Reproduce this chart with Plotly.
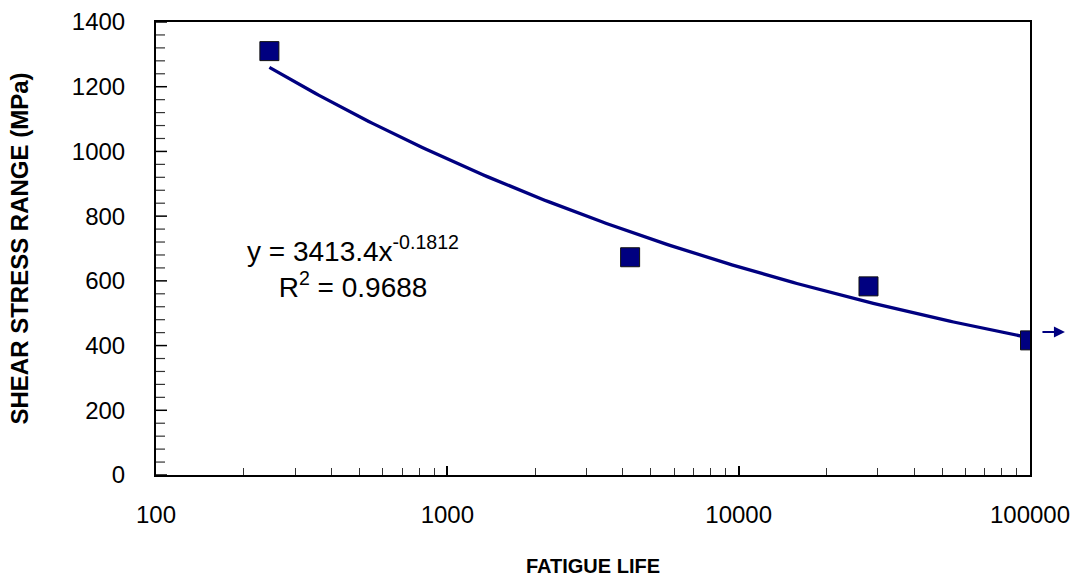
import numpy as np
import plotly.graph_objects as go

# Data
fatigue_life = [245, 4240, 27900, 100000]
shear_stress = [1310, 673, 583, 416]

# Power-law trendline coefficients shown on the chart: y = a * x^b
trend_a = 3413.4
trend_b = -0.1812
trend_r2 = 0.9688
trend_x_start = 245
trend_x_end = 100000

# Run-out arrow level (MPa) at the last specimen
runout_y = 442

x_tickvals = [100, 1000, 10000, 100000]
x_ticktext = ["100", "1000", "10000", "100000"]
y_max = 1400
y_major_step = 200
y_minor_step = 40

navy = "#000080"
font_family = "Liberation Sans, Arial, sans-serif"
plot_width_px = 1092 - 156 - 62

trend_x = np.logspace(np.log10(trend_x_start), np.log10(trend_x_end), 200)
trend_y = trend_a * trend_x ** trend_b

fig = go.Figure()
fig.add_trace(go.Scatter(x=trend_x, y=trend_y, mode="lines",
                         line=dict(color=navy, width=3.3), hoverinfo="skip",
                         showlegend=False))
fig.add_trace(go.Scatter(x=fatigue_life, y=shear_stress, mode="markers",
                         marker=dict(symbol="square", size=19, color=navy,
                                     line=dict(color="#111111", width=1)),
                         showlegend=False))

# inside tick marks on the y axis (major every 200, minor every 40)
for v in range(0, y_max + 1, y_minor_step):
    is_major = v % y_major_step == 0
    length_px = 11 if is_major else 9
    fig.add_shape(type="line", xref="paper", yref="y",
                  x0=0, x1=length_px / plot_width_px, y0=v, y1=v,
                  line=dict(color="black" if is_major else "#333333",
                            width=1.5 if is_major else 1.2),
                  layer="above")

# run-out arrow (head just right of the plot edge)
fig.add_annotation(x=1.04, y=runout_y, xref="paper", yref="y",
                   ax=-24, ay=0, axref="pixel", ayref="pixel",
                   showarrow=True, arrowhead=2, arrowsize=1.1, arrowwidth=2,
                   arrowcolor=navy, text="")

fig.add_annotation(xref="paper", yref="paper", x=0.225, y=0.46,
                   xanchor="center", yanchor="middle", showarrow=False,
                   align="center",
                   text=f"y = {trend_a}x<sup>{trend_b}</sup><br>R<sup>2</sup> = {trend_r2}",
                   font=dict(family=font_family, size=28, color="black"))

fig.update_xaxes(type="log", range=[2, 5], tickvals=x_tickvals, ticktext=x_ticktext,
                 ticks="inside", ticklen=9, tickwidth=1.5, tickcolor="black",
                 showline=True, linecolor="black", linewidth=2, mirror=True,
                 showgrid=False, zeroline=False, automargin=False,
                 minor=dict(ticks="inside", ticklen=7, tickwidth=1.2, tickcolor="#333333",
                            dtick="D1", showgrid=False),
                 ticklabelstandoff=17,
                 tickfont=dict(family=font_family, size=24, color="black"),
                 title=dict(text="<b>FATIGUE LIFE</b>", standoff=32,
                            font=dict(family=font_family, size=20, color="black")))
fig.update_yaxes(range=[0, y_max], dtick=y_major_step, ticks="",
                 showline=True, linecolor="black", linewidth=2, mirror=True,
                 showgrid=False, zeroline=False, automargin=False,
                 ticksuffix="\u2002\u2002",
                 tickfont=dict(family=font_family, size=24, color="black"),
                 title=dict(text="<b>SHEAR STRESS RANGE (MPa)</b>", standoff=36,
                            font=dict(family=font_family, size=24, color="black")))

fig.update_layout(width=1092, height=582,
                  margin=dict(l=156, r=62, t=22, b=107),
                  plot_bgcolor="white", paper_bgcolor="white")

fig.write_html("out.html")
